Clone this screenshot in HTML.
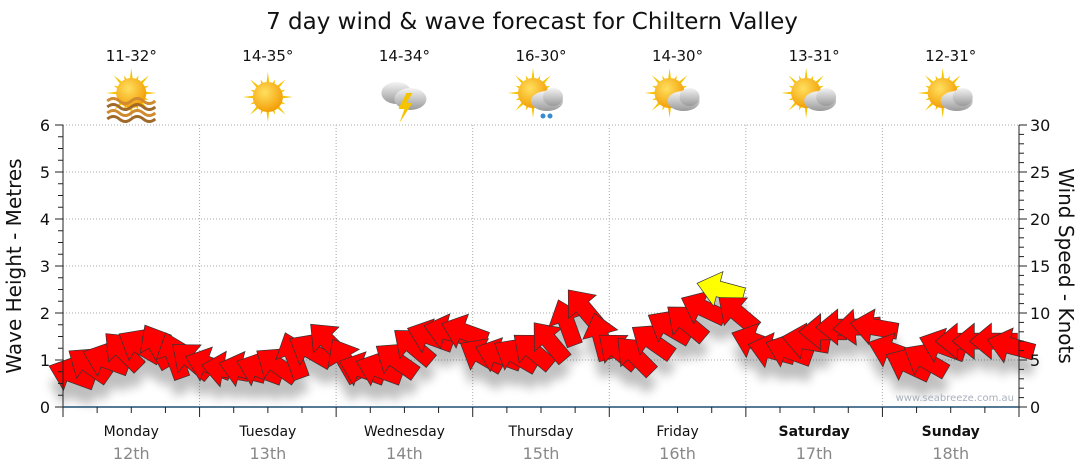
<!DOCTYPE html>
<html><head><meta charset="utf-8"><style>
body{margin:0;background:#fff;}
svg{display:block;font-family:"DejaVu Sans","Liberation Sans",sans-serif;}
</style></head><body>
<svg id="chart" width="1080" height="475" viewBox="0 0 1080 475">
<defs>
<filter id="sh" x="-50%" y="-50%" width="200%" height="200%"><feGaussianBlur stdDeviation="5"/></filter>
<radialGradient id="sun" cx="40%" cy="35%" r="70%"><stop offset="0" stop-color="#ffe060"/><stop offset="1" stop-color="#f29a00"/></radialGradient>
<linearGradient id="cloud" x1="0" y1="0" x2="0" y2="1"><stop offset="0" stop-color="#f4f4f4"/><stop offset="1" stop-color="#9a9a9a"/></linearGradient>
</defs>
<text x="532" y="29" text-anchor="middle" font-size="23" fill="#111">7 day wind &amp; wave forecast for Chiltern Valley</text>
<g id="grid"></g>
<g id="icons"></g>
<g id="shadow" filter="url(#sh)" opacity="0.25"></g>
<g id="arrows"></g>
<g id="axes"></g>
<text x="0" y="0" transform="translate(21,266) rotate(-90)" text-anchor="middle" font-size="20" fill="#111">Wave Height - Metres</text>
<text x="0" y="0" transform="translate(1059,266) rotate(90)" text-anchor="middle" font-size="20" fill="#111">Wind Speed - Knots</text>
<text x="1014" y="401" text-anchor="end" font-size="10" fill="#a8b0bc">www.seabreeze.com.au</text>
</svg>
<script>
const days=["Monday","Tuesday","Wednesday","Thursday","Friday","Saturday","Sunday"];
const dates=["12th","13th","14th","15th","16th","17th","18th"];
const temps=["11-32°","14-35°","14-34°","16-30°","14-30°","13-31°","12-31°"];
const icons=["sunhaze","sun","storm","sunrain","suncloud","suncloud","suncloud"];
const waveTicks=[0,1,2,3,4,5,6];
const windTicks=[0,5,10,15,20,25,30];
const windSpeed=[3.5,4.5,5,6,6.5,6.5,5.5,5, 4.5,4,4,4,4.5,5.5,6,7, 5,4,4,5,6.5,7.5,8,8, 5.5,5.5,5.5,6,7,9,10.5,7.5, 6,5.5,7,8.5,9,10.5,12.5,10, 7,6,6,7,8,8.5,8.5,8.5, 6,4.5,5,6.5,7,7,7,6.5];
const windDir=[200,215,200,225,210,240,250,220, 200,190,195,200,215,250,210,225, 240,200,200,215,220,200,195,200, 210,200,210,220,230,250,230,255, 220,225,215,210,220,205,195,220, 200,195,200,190,180,180,175,190, 200,205,210,200,180,180,180,195];
const NS="http://www.w3.org/2000/svg";
const X0=63,X1=1019,Y0=407,Y1=125;
const dayW=(X1-X0)/7;
function xT(i){return X0+(i+0.5)*(X1-X0)/windSpeed.length;}
function yW(m){return Y0-(m/6)*(Y0-Y1);}
function yK(k){return Y0-(k/30)*(Y0-Y1);}
function mk(t,a,p){const e=document.createElementNS(NS,t);for(const k in a)e.setAttribute(k,a[k]);(p||document.getElementById('chart')).appendChild(e);return e;}
const grid=document.getElementById('grid'),axes=document.getElementById('axes'),ic=document.getElementById('icons');
waveTicks.forEach(v=>{
 if(v>0){const l=mk('line',{x1:X0,x2:X1,y1:yW(v),y2:yW(v),stroke:'#aaa','stroke-dasharray':'1,2'},grid);
 
 }
 const t=mk('text',{x:50,y:yW(v)+6,'text-anchor':'end','font-size':16,fill:'#111'},axes);t.textContent=v;
 
 
});
for(let v=0;v<=6;v+=0.25){mk('line',{x1:X0-(v%1?5:8),x2:X0,y1:yW(v),y2:yW(v),stroke:'#222'},axes);}
windTicks.forEach(v=>{
 const t=mk('text',{x:1030,y:yK(v)+6,'font-size':16,fill:'#111'},axes);t.textContent=v;
 
 
});
for(let v=0;v<=30;v+=1){mk('line',{x1:X1,x2:X1+(v%5?5:8),y1:yK(v),y2:yK(v),stroke:'#222'},axes);}
mk('line',{x1:X0,x2:X0,y1:Y1,y2:Y0,stroke:'#222'},axes);
mk('line',{x1:X1,x2:X1,y1:Y1,y2:Y0,stroke:'#222'},axes);
mk('line',{x1:X0,x2:X1,y1:Y0,y2:Y0,stroke:'#1d4f72','stroke-width':1.5},axes);
for(let q=0;q<=28;q++){const x=X0+q*dayW/4;mk('line',{x1:x,x2:x,y1:Y0,y2:Y0+(q%4?6:10),stroke:'#222'},axes);}
days.forEach((d,i)=>{
 const cx=X0+(i+0.5)*dayW;
 if(i>0){const l=mk('line',{x1:X0+i*dayW,x2:X0+i*dayW,y1:Y1,y2:Y0,stroke:'#aaa','stroke-dasharray':'1,2'},grid);
 
 }
 const t=mk('text',{x:cx,y:436,'text-anchor':'middle','font-size':14,fill:'#111','font-weight':i>=5?'bold':'normal'},axes);t.textContent=d;
 
 
 const t2=mk('text',{x:cx,y:459,'text-anchor':'middle','font-size':16,fill:'#888'},axes);t2.textContent=dates[i];
 
 
 const t3=mk('text',{x:cx,y:61,'text-anchor':'middle','font-size':15,fill:'#111'},ic);t3.textContent=temps[i];
 
 
 const g=mk('g',{transform:`translate(${cx},97)`},ic);
 
 
 const kind=icons[i];
 if(kind!=='storm'){
  const sx=kind==='sun'||kind==='sunhaze'?0:-8,sy=kind==='sun'?0:-4;
  for(let r=0;r<16;r++){const a=r*Math.PI/8,L=r%2?19:25;mk('polygon',{points:`${sx+Math.cos(a-0.12)*13},${sy+Math.sin(a-0.12)*13} ${sx+Math.cos(a)*L},${sy+Math.sin(a)*L} ${sx+Math.cos(a+0.12)*13},${sy+Math.sin(a+0.12)*13}`,fill:'#f5c400'},g);}
  mk('circle',{cx:sx,cy:sy,r:15,fill:'url(#sun)'},g);
 }
 if(kind==='sunhaze'){for(let w=0;w<4;w++)mk('path',{d:`M-24 ${4+w*6} q6 -5 12 0 t12 0 t12 0 t12 0`,stroke:w%2?'#a06a2a':'#d08a30','stroke-width':3,fill:'none'},g);}
 if(kind==='storm'){mk('ellipse',{cx:-8,cy:-4,rx:15,ry:11,fill:'url(#cloud)'},g);mk('ellipse',{cx:6,cy:2,rx:16,ry:11,fill:'url(#cloud)'},g);mk('polygon',{points:'2,-4 -6,12 0,12 -5,26 8,6 2,6 8,-4',fill:'#f5c400'},g);}
 if(kind==='sunrain'||kind==='suncloud'){mk('ellipse',{cx:6,cy:4,rx:16,ry:10,fill:'url(#cloud)'},g);mk('ellipse',{cx:12,cy:0,rx:10,ry:9,fill:'url(#cloud)'},g);}
 if(kind==='sunrain'){mk('circle',{cx:2,cy:19,r:2.5,fill:'#3a8ad0'},g);mk('circle',{cx:9,cy:19,r:2.5,fill:'#3a8ad0'},g);}
});
const arr=document.getElementById('arrows'),sh=document.getElementById('shadow');
const shape="-24,-8 2,-8 2,-18 24,0 2,18 2,8 -24,8";
windSpeed.forEach((k,i)=>{
 const x=xT(i),y=yK(k),a=windDir[i];
 mk('polygon',{points:shape,transform:`translate(${x},${y+16}) rotate(${a})`,fill:'#000'},sh);
 const p=mk('polygon',{points:shape,transform:`translate(${x},${y}) rotate(${a})`,fill:k>=12?'#ffff00':'#ff0000',stroke:'#333','stroke-width':0.7},arr);
 
 
});
</script>
</body></html>
